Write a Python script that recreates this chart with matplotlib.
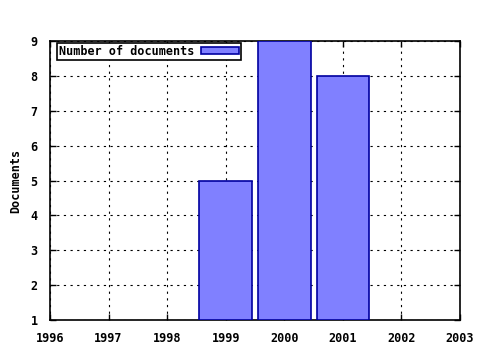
import matplotlib
matplotlib.use("Agg")
import matplotlib.pyplot as plt

years = [1999, 2000, 2001]
docs = [5, 9, 8]
xticks = [1996, 1997, 1998, 1999, 2000, 2001, 2002, 2003]
yticks = [1, 2, 3, 4, 5, 6, 7, 8, 9]

plt.rcParams['font.family'] = 'DejaVu Sans Mono'
plt.rcParams['font.weight'] = 'bold'
plt.rcParams['font.size'] = 8.5

fig = plt.figure(figsize=(4.8, 3.5), dpi=100)
ax = fig.add_axes([50/480, 1 - 320/350, 410/480, 279/350])

base = 1
ax.bar(years, [d - base for d in docs], bottom=base, width=0.9,
       color='#8080ff', edgecolor='#0000a0', linewidth=1.2,
       label='Number of documents', zorder=3)

ax.set_xlim(1996, 2003)
ax.set_ylim(1, 9)
ax.set_xticks(xticks)
ax.set_yticks(yticks)
ax.grid(True, linestyle=(0, (2, 4)), color='black', linewidth=0.8)
ax.tick_params(direction='in', length=4, width=1)
ax.tick_params(axis='x', pad=9)
ax.tick_params(axis='y', pad=9)
ax.tick_params(top=True, right=True)
for s in ax.spines.values():
    s.set_linewidth(1.2)
ax.set_ylabel('Documents', fontweight='bold', labelpad=6)

leg = ax.legend(loc='upper left', bbox_to_anchor=(7/410, 1 - 2/279),
                markerfirst=False, frameon=True, fancybox=False,
                borderpad=0.15, handlelength=3.2, handleheight=0.5,
                handletextpad=0.6, borderaxespad=0, framealpha=1)
leg.get_frame().set_edgecolor('black')
leg.get_frame().set_linewidth(1.2)

fig.savefig('out.png', dpi=100)
